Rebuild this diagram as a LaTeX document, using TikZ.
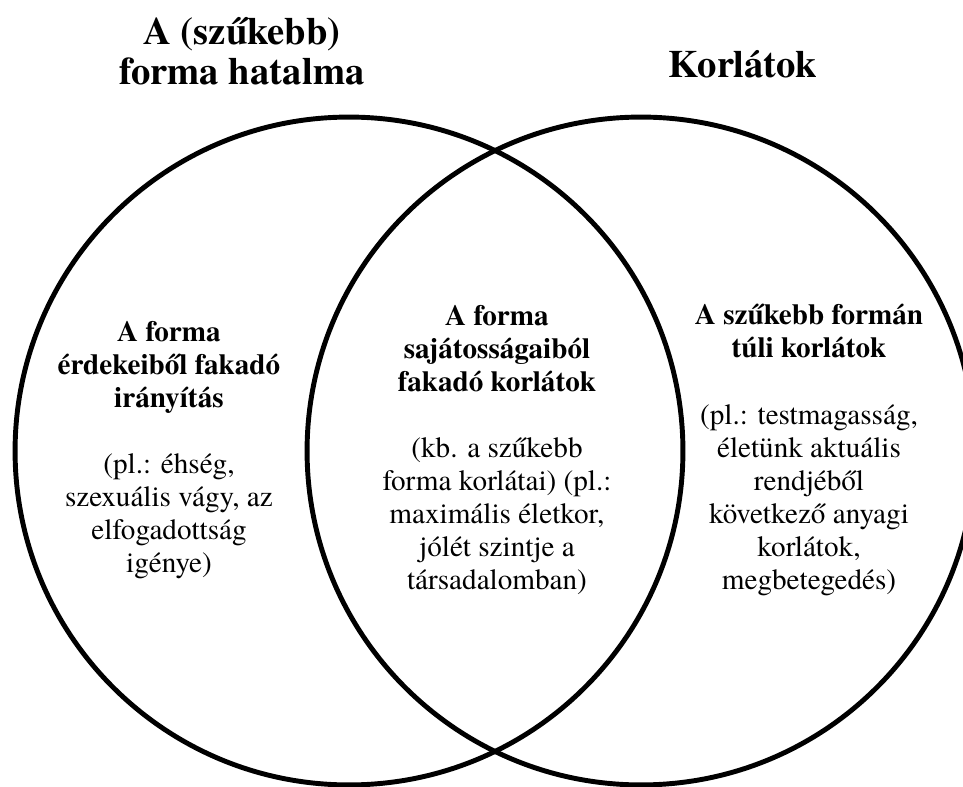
\documentclass[tikz,border=0pt]{standalone}
\usepackage{fontspec}
\setmainfont{texgyretermes}[Extension=.otf, UprightFont=*-regular, BoldFont=*-bold, ItalicFont=*-italic, BoldItalicFont=*-bolditalic]
\tikzset{
  venn/.style={line width=2.8pt},
  title/.style={font=\fontsize{22}{22.7}\selectfont\bfseries, align=center, inner sep=0pt},
  region/.style={font=\fontsize{16.6}{18.8}\selectfont, align=center, inner sep=0pt}
}
\begin{document}
\begin{tikzpicture}[x=0.02cm,y=-0.02cm]
\useasboundingbox (0,0) rectangle (963,787);

\draw[venn] (349,451) circle [radius=6.68cm];
\draw[venn] (641,451) circle [radius=6.68cm];

\node[title] (hatalom) at (242,51) {A (szűkebb)\\forma hatalma};
\node[title] (korlatok) at (743,64) {Korlátok};

\node[region] (iranyitas) at (169,450) {\textbf{A forma}\\\textbf{érdekeiből fakadó}\\\textbf{irányítás}\\[18.8pt]
(pl.: éhség,\\szexuális vágy, az\\elfogadottság\\igénye)};
\node[region] (sajat) at (497,450) {\textbf{A forma}\\\textbf{sajátosságaiból}\\\textbf{fakadó korlátok}\\[18.8pt]
(kb. a szűkebb\\forma korlátai) (pl.:\\maximális életkor,\\jólét szintje a\\társadalomban)};
\node[region] (tuli) at (809,450) {\textbf{A szűkebb formán}\\\textbf{túli korlátok}\\[18.8pt]
(pl.: testmagasság,\\életünk aktuális\\rendjéből\\következő anyagi\\korlátok,\\megbetegedés)};
\end{tikzpicture}
\end{document}
